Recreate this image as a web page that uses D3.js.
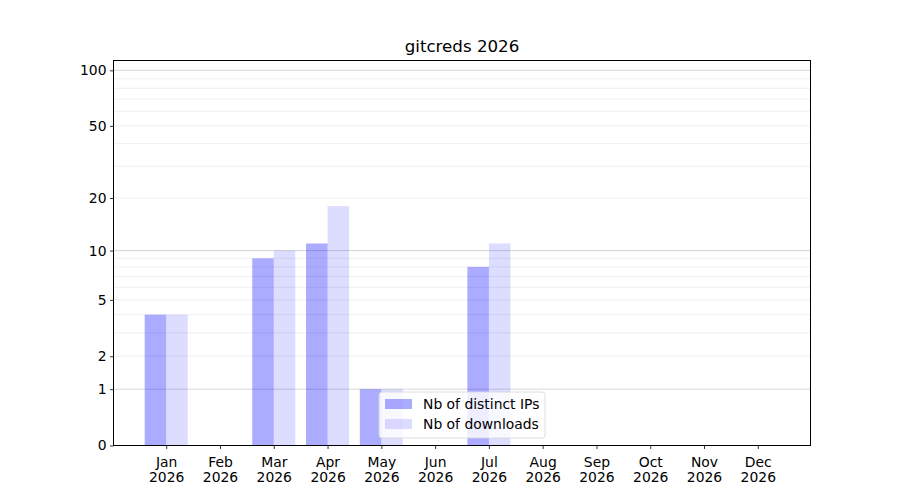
<!DOCTYPE html>
<html>
<head>
<meta charset="utf-8">
<script src="https://cdn.jsdelivr.net/npm/d3@7"></script>
<style>
  body { margin: 0; background: #fff; }
  text { font-family: "DejaVu Sans", sans-serif; fill: #000; }
</style>
</head>
<body>
<div id="chart-area"></div>
<script>
const months = ['Jan', 'Feb', 'Mar', 'Apr', 'May', 'Jun', 'Jul', 'Aug', 'Sep', 'Oct', 'Nov', 'Dec'];
const year = '2026';
const distinctIPs = [4, 0, 9, 11, 1, 0, 8, 0, 0, 0, 0, 0];
const downloads = [4, 0, 10, 18, 1, 0, 11, 0, 0, 0, 0, 0];
const yTicks = [0, 1, 2, 5, 10, 20, 50, 100];
const majorGrid = [1, 10, 100];
const minorGrid = [2, 3, 4, 5, 6, 7, 8, 9, 20, 30, 40, 50, 60, 70, 80, 90];
const seriesNames = ['Nb of distinct IPs', 'Nb of downloads'];

const chartSize = { width: 900, height: 500 };
const margin = { left: 113.5, right: 89.5, top: 60.5, bottom: 54.5 };
const width = chartSize.width - (margin.left + margin.right);
const height = chartSize.height - (margin.top + margin.bottom);
const barW = 0.4;
const fs = 13.9;

const svg = d3.select('#chart-area').append('svg')
  .attr('width', chartSize.width)
  .attr('height', chartSize.height);

const g = svg.append('g')
  .attr('transform', `translate(${margin.left},${margin.top})`);

const x = d3.scaleLinear().domain([-0.98, 11.98]).range([0, width]);
const y = d3.scaleSymlog().constant(1).domain([0, 113]).range([height, 0]);

// grid
g.selectAll('.minor').data(minorGrid).enter().append('line')
  .attr('x1', 0).attr('x2', width)
  .attr('y1', d => y(d)).attr('y2', d => y(d))
  .attr('stroke', '#ebebeb').attr('stroke-width', 0.8);
g.selectAll('.major').data(majorGrid).enter().append('line')
  .attr('x1', 0).attr('x2', width)
  .attr('y1', d => y(d)).attr('y2', d => y(d))
  .attr('stroke', '#cccccc').attr('stroke-width', 0.8);

// bars
const data = months.map((m, i) => ({ i, ips: distinctIPs[i], dl: downloads[i] }));
g.selectAll('.ips').data(data).enter().append('rect')
  .attr('x', d => x(d.i - barW))
  .attr('width', x(barW) - x(0))
  .attr('y', d => y(d.ips))
  .attr('height', d => height - y(d.ips))
  .attr('fill', 'blue').attr('fill-opacity', 0.33);
g.selectAll('.dl').data(data).enter().append('rect')
  .attr('x', d => x(d.i))
  .attr('width', x(barW) - x(0))
  .attr('y', d => y(d.dl))
  .attr('height', d => height - y(d.dl))
  .attr('fill', 'blue').attr('fill-opacity', 0.135);

// axes
const yAxis = d3.axisLeft(y).tickValues(yTicks).tickFormat(d3.format('d')).tickSize(3.5).tickPadding(3.5);
const yG = g.append('g').call(yAxis);
const xAxis = d3.axisBottom(x).tickValues(d3.range(12)).tickFormat('').tickSize(3.5);
const xG = g.append('g').attr('transform', `translate(0,${height})`).call(xAxis);
[yG, xG].forEach(a => {
  a.select('.domain').remove();
  a.selectAll('line').attr('stroke', '#000').attr('stroke-width', 0.8);
  a.selectAll('text').attr('font-size', fs).attr('font-family', 'DejaVu Sans').attr('fill', '#000');
});

xG.selectAll('.tick').append('text')
  .attr('text-anchor', 'middle').attr('font-size', fs).attr('fill', '#000')
  .selectAll('tspan').data(d => [months[d], year]).enter().append('tspan')
  .attr('x', 0).attr('y', (d, k) => 21 + k * 15.5)
  .text(d => d);

g.append('rect')
  .attr('width', width).attr('height', height)
  .attr('fill', 'none').attr('stroke', '#000').attr('stroke-width', 1);

// title
svg.append('text')
  .attr('x', margin.left + width / 2).attr('y', 52)
  .attr('text-anchor', 'middle').attr('font-size', 16.67)
  .text('gitcreds 2026');

// legend
const lg = svg.append('g').attr('transform', 'translate(379,392)');
lg.append('rect')
  .attr('width', 166).attr('height', 46).attr('rx', 3)
  .attr('fill', '#fff').attr('fill-opacity', 0.8)
  .attr('stroke', '#d5d5d5').attr('stroke-width', 0.8);
const items = lg.selectAll('.item').data(seriesNames).enter().append('g')
  .attr('transform', (d, k) => `translate(6,${7 + k * 20})`);
items.append('rect')
  .attr('width', 27).attr('height', 10)
  .attr('fill', 'blue').attr('fill-opacity', (d, k) => k === 0 ? 0.33 : 0.135);
items.append('text')
  .attr('x', 38).attr('y', 10).attr('font-size', fs)
  .text(d => d);
</script>
</body>
</html>
